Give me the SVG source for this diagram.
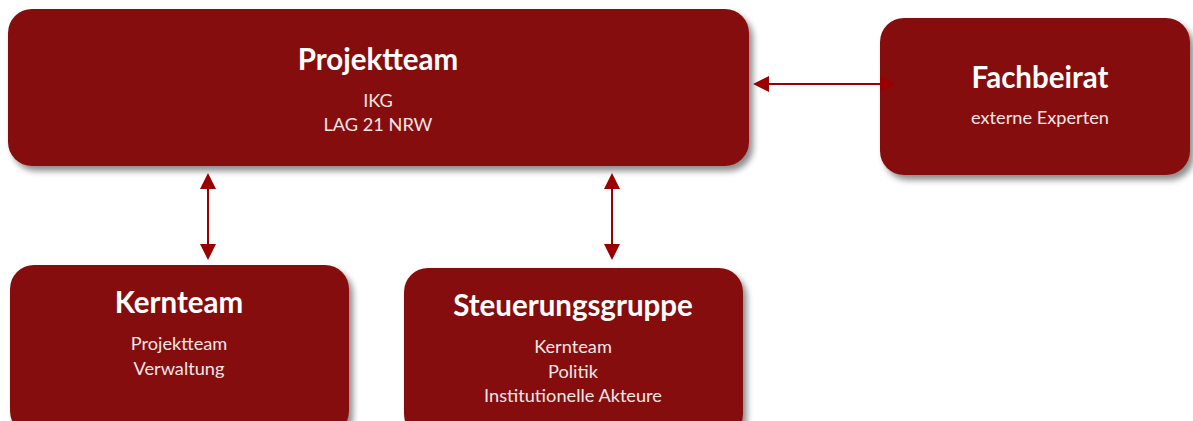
<svg xmlns="http://www.w3.org/2000/svg" width="1193" height="421" viewBox="0 0 1193 421">
  <defs>
    <filter id="shadow" x="-10%" y="-10%" width="125%" height="130%">
      <feGaussianBlur in="SourceAlpha" stdDeviation="3"/>
      <feOffset dx="4" dy="5" result="b"/>
      <feComponentTransfer><feFuncA type="linear" slope="0.45"/></feComponentTransfer>
      <feMerge><feMergeNode/><feMergeNode in="SourceGraphic"/></feMerge>
    </filter>
  </defs>
  <style>
    .box { fill: #85100f; filter: url(#shadow); }
    .title { font-family: Lato, "Open Sans", sans-serif; font-weight: 700; font-size: 29.5px; fill: #ffffff; text-anchor: middle; }
    .sub { font-family: Lato, "Open Sans", sans-serif; font-weight: 400; font-size: 18.2px; fill: #f3e6e6; text-anchor: middle; }
    .link { stroke: #9a0000; stroke-width: 2; fill: none; }
    .ah { fill: #9a0000; }
  </style>

  <g id="projektteam">
    <rect class="box" x="8" y="9" width="741" height="157" rx="24"/>
    <text class="title" x="378" y="70">Projektteam</text>
    <text class="sub" x="378" y="107">IKG</text>
    <text class="sub" x="378" y="131">LAG 21 NRW</text>
  </g>

  <g id="fachbeirat">
    <rect class="box" x="880" y="18" width="310" height="157" rx="24"/>
    <text class="title" x="1040" y="88">Fachbeirat</text>
    <text class="sub" x="1040" y="124">externe Experten</text>
  </g>

  <g id="kernteam">
    <rect class="box" x="10" y="265" width="339" height="170" rx="24"/>
    <text class="title" x="179" y="313">Kernteam</text>
    <text class="sub" x="179" y="350">Projektteam</text>
    <text class="sub" x="179" y="375">Verwaltung</text>
  </g>

  <g id="steuerungsgruppe">
    <rect class="box" x="404" y="268" width="339" height="170" rx="24"/>
    <text class="title" x="573" y="316">Steuerungsgruppe</text>
    <text class="sub" x="573" y="353">Kernteam</text>
    <text class="sub" x="573" y="378">Politik</text>
    <text class="sub" x="573" y="402">Institutionelle Akteure</text>
  </g>

  <g id="connectors">
    <!-- Projektteam <-> Fachbeirat -->
    <line class="link" x1="768" y1="84" x2="882" y2="84"/>
    <path class="ah" d="M753,84 L769,76 L769,92 Z"/>
    <path class="ah" d="M896,84 L880,76 L880,92 Z"/>
    <!-- Projektteam <-> Kernteam -->
    <line class="link" x1="208" y1="186" x2="208" y2="246"/>
    <path class="ah" d="M208,173 L200,189 L216,189 Z"/>
    <path class="ah" d="M208,260 L200,244 L216,244 Z"/>
    <!-- Projektteam <-> Steuerungsgruppe -->
    <line class="link" x1="612" y1="186" x2="612" y2="246"/>
    <path class="ah" d="M612,173 L604,189 L620,189 Z"/>
    <path class="ah" d="M612,260 L604,244 L620,244 Z"/>
  </g>
</svg>
